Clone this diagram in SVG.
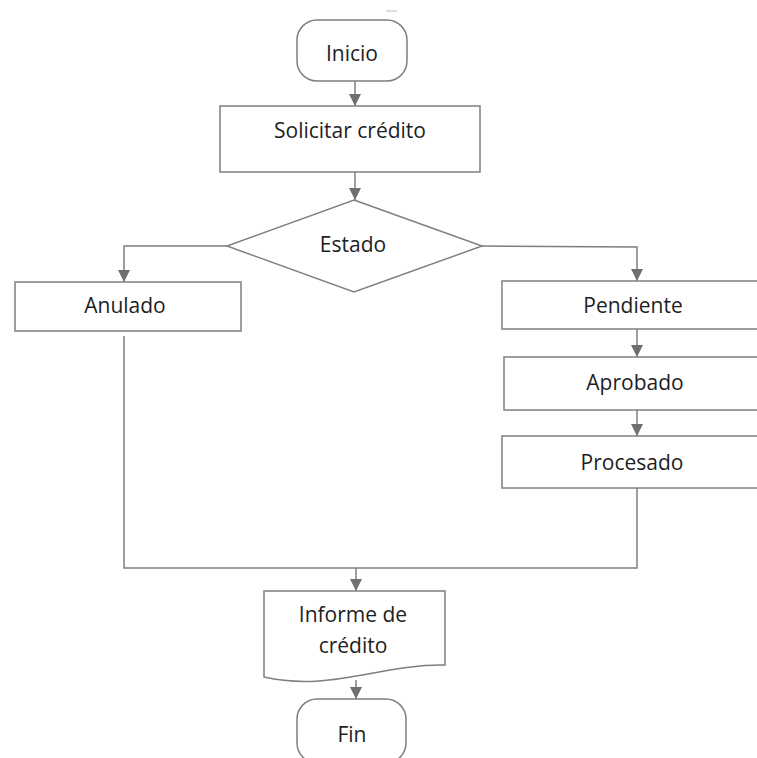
<svg xmlns="http://www.w3.org/2000/svg" width="757" height="758" viewBox="0 0 757 758">
  <defs>
    <style>
      .shape { fill: #ffffff; stroke: #7f7f7f; stroke-width: 1.5; }
      .link { fill: none; stroke: #7f7f7f; stroke-width: 1.5; }
      .label { font-family: "Open Sans", "Noto Sans", "DejaVu Sans", sans-serif; font-size: 21px; fill: #1e1e1e; text-anchor: middle; }
    </style>
    <marker id="arrow" markerUnits="userSpaceOnUse" markerWidth="12" markerHeight="12" viewBox="0 0 12 12" refX="12" refY="6" orient="auto">
      <path d="M0,0 L12,6 L0,12 Z" fill="#6f6f6f"/>
    </marker>
  </defs>
  <rect width="757" height="758" fill="#ffffff"/>

  <!-- stray tick near the top -->
  <line x1="386" y1="11" x2="397" y2="11" stroke="#c8c8c8" stroke-width="1.2"/>

  <g id="connectors">
    <line class="link" x1="355" y1="81" x2="355" y2="106" marker-end="url(#arrow)"/>
    <line class="link" x1="355" y1="172" x2="355" y2="200" marker-end="url(#arrow)"/>
    <polyline class="link" points="227,246 124,246 124,282" marker-end="url(#arrow)"/>
    <polyline class="link" points="482,246 637,247 637,281" marker-end="url(#arrow)"/>
    <line class="link" x1="637" y1="329" x2="637" y2="357" marker-end="url(#arrow)"/>
    <line class="link" x1="637" y1="410" x2="637" y2="436" marker-end="url(#arrow)"/>
    <polyline class="link" points="124,336 124,568 637,568 637,488"/>
    <line class="link" x1="356" y1="568" x2="356" y2="591" marker-end="url(#arrow)"/>
    <line class="link" x1="356" y1="680" x2="356" y2="699" marker-end="url(#arrow)"/>
  </g>

  <g id="inicio">
    <rect class="shape" x="297" y="20" width="110" height="61" rx="20" ry="20"/>
    <text class="label" x="352" y="61">Inicio</text>
  </g>

  <g id="solicitar">
    <rect class="shape" x="220" y="106" width="260" height="66"/>
    <text class="label" x="350" y="138">Solicitar crédito</text>
  </g>

  <g id="estado">
    <polygon class="shape" points="354,200 482,246 354,292 227,246"/>
    <text class="label" x="353" y="252">Estado</text>
  </g>

  <g id="anulado">
    <rect class="shape" x="15" y="282" width="226" height="49"/>
    <text class="label" x="125" y="313">Anulado</text>
  </g>

  <g id="pendiente">
    <rect class="shape" x="502" y="281" width="262" height="48"/>
    <text class="label" x="633" y="313">Pendiente</text>
  </g>

  <g id="aprobado">
    <rect class="shape" x="504" y="357" width="262" height="53"/>
    <text class="label" x="635" y="390">Aprobado</text>
  </g>

  <g id="procesado">
    <rect class="shape" x="502" y="436" width="262" height="52"/>
    <text class="label" x="632" y="470">Procesado</text>
  </g>

  <g id="informe">
    <path class="shape" d="M264,591 L445,591 L445,665 C380,664 330,692 264,677 Z"/>
    <text class="label" x="353" y="622">Informe de</text>
    <text class="label" x="353" y="653">crédito</text>
  </g>

  <g id="fin">
    <rect class="shape" x="297" y="699" width="109" height="64" rx="20" ry="20"/>
    <text class="label" x="352" y="742">Fin</text>
  </g>
</svg>
